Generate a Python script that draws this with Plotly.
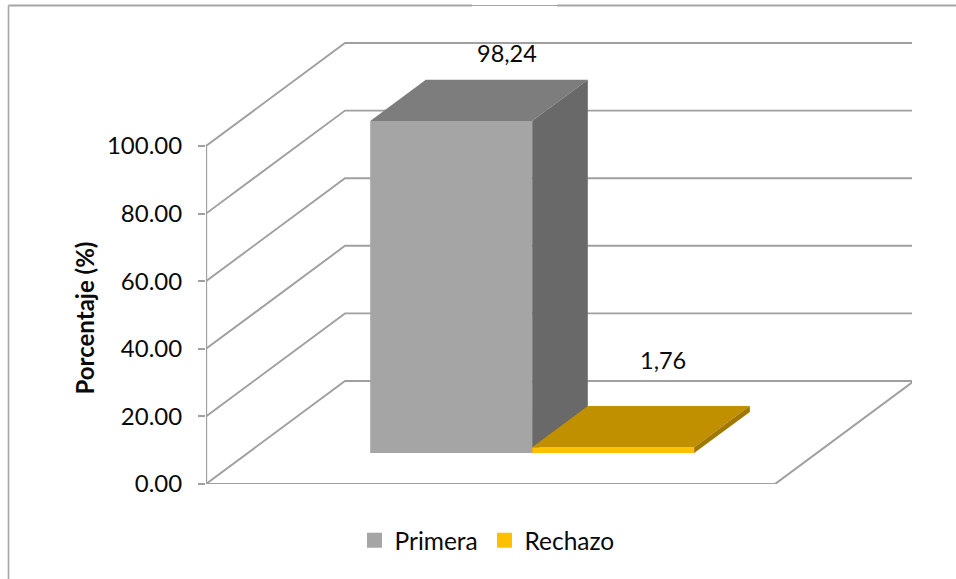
import plotly.graph_objects as go

# ---- data ----
series_names = ["Primera", "Rechazo"]
series_values = [98.24, 1.76]
tick_values = [0, 20, 40, 60, 80, 100]
axis_title = "Porcentaje (%)"

# ---- colours ----
front_colors = ["#a5a5a5", "#ffc000"]
top_colors = ["#7d7d7d", "#c09000"]
side_colors = ["#696969", "#a07800"]
LINE = "#a0a0a0"
FRAME = "#a6a6a6"
FONT = "Lato, Carlito, sans-serif"
TEXT = "#0a0a0a"

# ---- oblique 3D box geometry (category units / percent units) ----
W, H = 956, 579
ML, MR, MT, MB = 206, 44, 42, 95
PX_PER_X = 569.0          # one category width on screen
PX_PER_Y = 3.38           # one percent on screen
DEPTH_X = 139 / PX_PER_X  # x shift of the whole floor depth
DEPTH_Y = 103 / PX_PER_Y  # y shift of the whole floor depth
BAR_W = 0.2847
D0, D1 = 0.30, 0.70       # bar front/back depth fraction
X_MAX = (W - ML - MR) / PX_PER_X
Y_MAX = (H - MT - MB) / PX_PER_Y


def proj(x, v, d):
    return x + d * DEPTH_X, v + d * DEPTH_Y


def poly(pts):
    p = [proj(*q) for q in pts]
    p.append(p[0])
    return [a for a, _ in p], [b for _, b in p]


fig = go.Figure()


def line_trace(pts, width=1.9):
    xs, ys = zip(*[proj(*q) for q in pts])
    fig.add_trace(go.Scatter(x=xs, y=ys, mode="lines", showlegend=False, hoverinfo="skip",
                             line=dict(color=LINE, width=width), cliponaxis=False))


# wall grid lines and floor
for v in tick_values:
    line_trace([(0, v, 0), (0, v, 1), (1, v, 1)])
line_trace([(0, 0, 0), (1, 0, 0), (1, 0, 1)], 2.1)
line_trace([(0, 0, 0), (0, tick_values[-1], 0)], 2.3)


def face(pts, color):
    xs, ys = poly(pts)
    fig.add_trace(go.Scatter(x=xs, y=ys, mode="lines", fill="toself", fillcolor=color,
                             line=dict(width=0), showlegend=False, hoverinfo="skip"))


x_start = 0.5 - BAR_W * len(series_values) / 2
for i, v in enumerate(series_values):
    x0 = x_start + i * BAR_W
    x1 = x0 + BAR_W
    face([(x0, 0, D0), (x1, 0, D0), (x1, v, D0), (x0, v, D0)], front_colors[i])
    face([(x0, v, D0), (x1, v, D0), (x1, v, D1), (x0, v, D1)], top_colors[i])
    face([(x1, 0, D0), (x1, 0, D1), (x1, v, D1), (x1, v, D0)], side_colors[i])

# legend entries
for name, color in zip(series_names, front_colors):
    fig.add_trace(go.Scatter(x=[None], y=[None], mode="markers", name=name,
                             marker=dict(symbol="square", size=15, color=color)))

# data labels
label_shift = [(0, 27), (-6, 46)]
for i, v in enumerate(series_values):
    cx = x_start + (i + 0.5) * BAR_W
    px, py = proj(cx, v, D1)
    fig.add_annotation(x=px, y=py, text=f"{v:.2f}".replace(".", ","), showarrow=False,
                       xshift=label_shift[i][0], yshift=label_shift[i][1],
                       font=dict(family=FONT, size=23.5, color=TEXT))

# axis title centred on the 0-100 scale
fig.add_annotation(xref="paper", x=0, yref="y", y=tick_values[-1] / 2, text=f"<b>{axis_title}</b>",
                   textangle=-90, showarrow=False, xshift=-139, yshift=-3,
                   font=dict(family=FONT, size=24, color=TEXT))


def px_x(p):
    return (p - ML) / (W - ML - MR)


def px_y(p):
    return (H - MB - p) / (H - MT - MB)


def frame(x0, y0, x1, y1, width):
    return dict(type="line", xref="paper", yref="paper", x0=px_x(x0), x1=px_x(x1),
                y0=px_y(y0), y1=px_y(y1), line=dict(color=FRAME, width=width))


fig.update_layout(
    width=W, height=H, autosize=False,
    margin=dict(l=ML, r=MR, t=MT, b=MB, pad=0),
    paper_bgcolor="white", plot_bgcolor="white",
    hovermode=False,
    font=dict(family=FONT, size=24, color=TEXT),
    xaxis=dict(range=[0, X_MAX], visible=False, fixedrange=True),
    yaxis=dict(range=[0, Y_MAX], tickvals=tick_values, tickformat=".2f",
               ticks="outside", ticklen=7, tickcolor=LINE, tickwidth=1.5, ticklabelstandoff=11,
               showgrid=False, zeroline=False, showline=False, fixedrange=True,
               tickfont=dict(family=FONT, size=24, color=TEXT)),
    legend=dict(orientation="h", x=0.3708, xref="container", xanchor="left", y=0.067,
                yref="container", yanchor="middle", font=dict(family=FONT, size=24.5, color=TEXT),
                bgcolor="rgba(0,0,0,0)", itemwidth=30, entrywidth=85, entrywidthmode="pixels"),
    shapes=[
        frame(8.5, 5.5, 472, 5.5, 1.8),
        frame(472, 5.5, 557, 5.5, 1),
        frame(557, 5.5, W, 5.5, 1.8),
        frame(8.5, 5.5, 8.5, H, 1.6),
    ],
)

fig.write_html("out.html", config={"displayModeBar": False},
               post_script="document.body.style.margin='0';document.body.style.overflow='hidden';")
